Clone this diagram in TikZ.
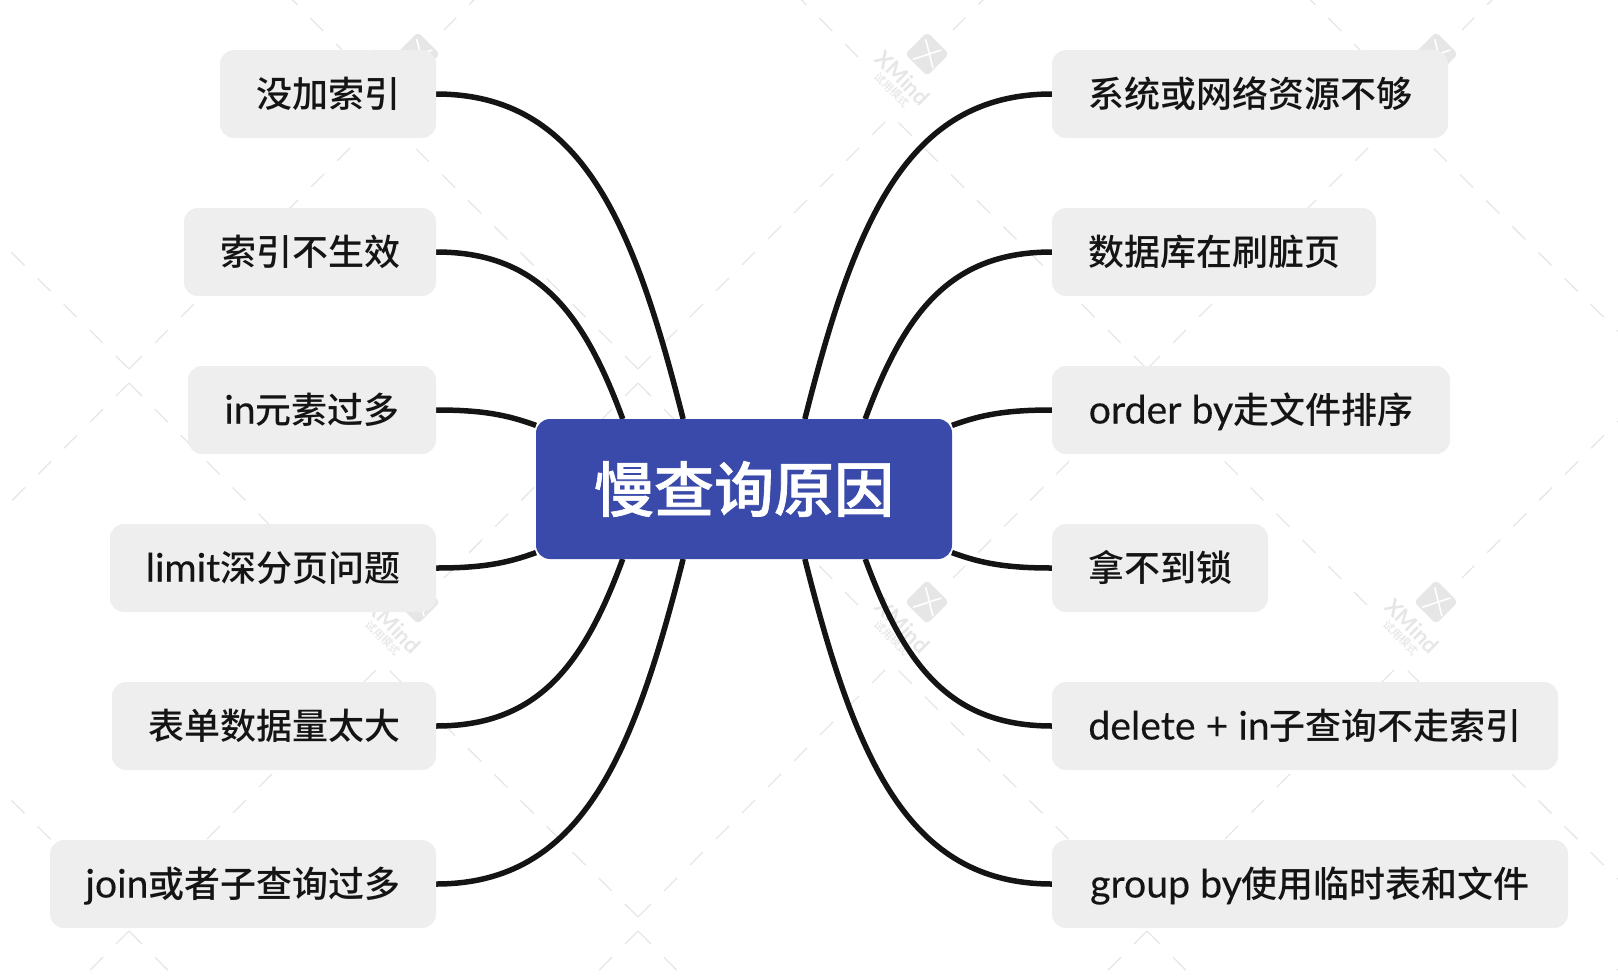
\documentclass[tikz,border=0pt]{standalone}
\usepackage{fontspec}
\setmainfont{Noto Sans CJK SC Medium}
\newfontfamily\rootfont[FakeBold=1.1]{Noto Sans CJK SC Medium}
\newfontfamily\latinfont[Scale=1.09, FakeBold=0.25]{Lato}
\newfontfamily\markfont{Lato}
\newcommand{\lat}[1]{{\latinfont #1}}
\usetikzlibrary{positioning, backgrounds}
\definecolor{rootblue}{HTML}{3A4AAA}
\definecolor{topicgray}{HTML}{EEEEEE}
\definecolor{inkblack}{HTML}{141414}
\definecolor{markgray}{HTML}{E6E6E6}
\tikzset{
  root/.style={rectangle, fill=rootblue, rounded corners=14pt, text=white,
               minimum width=416pt, minimum height=140pt, outer sep=0pt,
               font=\rootfont\fontsize{60}{66}\selectfont,
               text height=50pt, text depth=4.4pt},
  topic/.style={rectangle, fill=topicgray, rounded corners=14pt, text=inkblack,
                minimum height=88pt, outer sep=0pt, inner xsep=0pt,
                font=\fontsize{36}{40}\selectfont,
                text height=30pt, text depth=3pt},
  branch/.style={draw=inkblack, line width=5.5pt},
  markdash/.style={draw=markgray, line width=1.3pt, dash pattern=on 18.4pt off 18.4pt},
  marktext/.style={text=markgray, inner sep=0pt, rotate=-45},
}

\begin{document}
\begin{tikzpicture}[x=1pt, y=1pt, node distance=70pt]
  \useasboundingbox (0,0) rectangle (1618,-978);

  % Main node
  \node[root] (root) at (744,-489) {慢查询原因};

  % Left topics
  \node[topic, minimum width=216pt, anchor=east] (l1) at (436,-94) {没加索引};
  \node[topic, minimum width=252pt, below=of l1.south east, anchor=north east] (l2) {索引不生效};
  \node[topic, minimum width=248pt, below=of l2.south east, anchor=north east] (l3) {\lat{in}元素过多};
  \node[topic, minimum width=326pt, below=of l3.south east, anchor=north east] (l4) {\lat{limit}深分页问题};
  \node[topic, minimum width=324pt, below=of l4.south east, anchor=north east] (l5) {表单数据量太大};
  \node[topic, minimum width=386pt, below=of l5.south east, anchor=north east] (l6) {\lat{join}或者子查询过多};

  % Right topics
  \node[topic, minimum width=396pt, anchor=west] (r1) at (1052,-94) {系统或网络资源不够};
  \node[topic, minimum width=324pt, below=of r1.south west, anchor=north west] (r2) {数据库在刷脏页};
  \node[topic, minimum width=398pt, below=of r2.south west, anchor=north west] (r3) {\lat{order by}走文件排序};
  \node[topic, minimum width=216pt, below=of r3.south west, anchor=north west] (r4) {拿不到锁};
  \node[topic, minimum width=506pt, below=of r4.south west, anchor=north west] (r5) {\lat{delete + in}子查询不走索引};
  \node[topic, minimum width=516pt, below=of r5.south west, anchor=north west] (r6) {\lat{group by}使用临时表和文件};

  \begin{scope}[on background layer]
    % Trial watermark, dashes
    \foreach \wx in {-91,418,927,1436} {
      \foreach \wy in {54,602,1150} {
        \begin{scope}[shift={(\wx,-\wy)}]
          \draw[markdash] (-289,219) -- (-69,-3);
          \draw[markdash] (220,219) -- (26,24);
          \draw[markdash] (-289,-315) -- (-42,-68);
          \draw[markdash] (220,-315) -- (-29,-68);
        \end{scope}
      }
    }

    % Trial watermark, logos
    \foreach \wx in {418,927,1436} {
      \foreach \wy in {54,602} {
        \begin{scope}[shift={(\wx,-\wy)}]
          \fill[markgray, rounded corners=4pt] (0,22) -- (22,0) -- (0,-22) -- (-22,0) -- cycle;
          \draw[white, line width=1.6pt] (-1.3,14.7) -- (6,-14.3);
          \draw[white, line width=1.6pt] (-14,-5.3) -- (14.3,4);
          \node[marktext, font=\markfont\fontsize{22}{22}\selectfont\bfseries] (xmind\wx\wy) at (-24,-24) {XMind};
          \node[marktext, font=\fontsize{11}{11}\selectfont] (trial\wx\wy) at (-35,-36) {试用模式};
        \end{scope}
      }
    }

    % Branches
    \foreach \tp/\side/\ang/\ox/\ix/\iy in {
      l1/east/131/145/-50/198, l2/east/150/100/-40/109, l3/east/163/45/-30/11,
      l4/east/197/45/-30/-11, l5/east/210/100/-40/-109, l6/east/229/145/-50/-198,
      r1/west/49/-145/50/198, r2/west/30/-100/40/109, r3/west/17/-45/30/11,
      r4/west/-17/-45/30/-11, r5/west/-30/-100/40/-109, r6/west/-49/-145/50/-198} {
      \draw[branch] (\tp.\side) .. controls +(\ox,0) and +(\ix,\iy) .. (root.\ang);
    }
  \end{scope}
\end{tikzpicture}
\end{document}
